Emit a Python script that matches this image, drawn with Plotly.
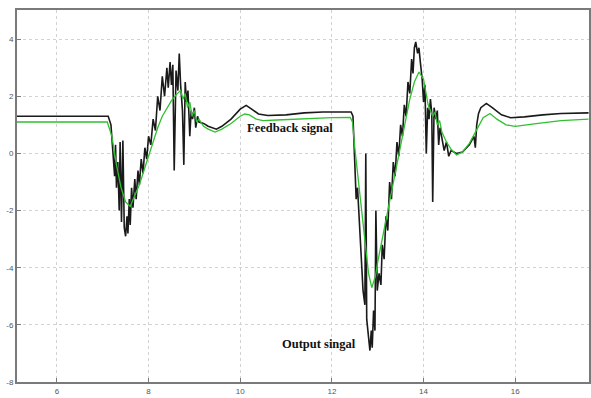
import plotly.graph_objects as go

# Output signal (black)
out_x = [5.1, 7.12, 7.18, 7.22, 7.26, 7.28, 7.3, 7.33, 7.36, 7.38, 7.41, 7.44, 7.47, 7.5, 7.53, 7.55,
         7.58, 7.6, 7.63, 7.66, 7.7, 7.73, 7.77, 7.8, 7.84, 7.88, 7.92, 7.96, 8.0, 8.05, 8.1, 8.15,
         8.2, 8.25, 8.3, 8.35, 8.4, 8.43, 8.47, 8.5, 8.53, 8.56, 8.6, 8.64, 8.67, 8.7, 8.74, 8.77,
         8.8, 8.83, 8.86, 8.9, 8.93, 8.96, 9.0, 9.03, 9.07, 9.1, 9.2, 9.3, 9.48, 9.6, 9.8, 10.0,
         10.13, 10.25, 10.4, 10.6, 11.0, 11.4, 11.8, 12.2, 12.42, 12.46, 12.5, 12.53, 12.56, 12.6,
         12.64, 12.68, 12.72, 12.74, 12.76, 12.8, 12.83, 12.86, 12.88, 12.91, 12.94, 12.96, 12.99,
         13.03, 13.07, 13.1, 13.14, 13.18, 13.22, 13.26, 13.3, 13.34, 13.38, 13.42, 13.46, 13.5,
         13.54, 13.58, 13.62, 13.66, 13.7, 13.74, 13.77, 13.8, 13.83, 13.87, 13.9, 13.93, 13.97,
         14.0, 14.03, 14.06, 14.09, 14.12, 14.15, 14.18, 14.2, 14.23, 14.27, 14.3, 14.33, 14.36,
         14.4, 14.45, 14.5, 14.55, 14.6, 14.72, 14.85, 15.0, 15.1, 15.13, 15.16, 15.2, 15.25,
         15.37, 15.5, 15.7, 15.9, 16.2, 16.6, 17.0, 17.6]
out_y = [1.3, 1.3, 1.0, 0.0, -0.8, 0.3, -1.2, -0.3, -2.0, 0.4, -2.4, 0.45, -2.6, -2.9, -2.2, -2.8,
         -1.6, -2.5, -1.2, -1.9, -0.9, -1.6, -0.6, -1.1, -0.2, -0.7, 0.2, -0.2, 0.6, 0.3, 1.2, 0.8,
         2.0, 1.5, 2.7, 2.0, 3.0, 2.3, 3.2, 2.4, 3.1, -0.6, 2.9, 2.2, 3.5, 2.4, 1.5, -0.4,
         2.5, 1.8, 2.2, 0.6, 1.5, 1.2, 1.6, 0.9, 1.3, 1.1, 1.05, 0.95, 0.85, 0.95, 1.2, 1.55,
         1.68, 1.55, 1.38, 1.33, 1.35, 1.42, 1.45, 1.45, 1.45, 1.3, -0.5, -1.6, -1.2, -2.4,
         -3.5, -4.8, -5.3, 0.0, -5.8, -6.5, -6.9, -6.2, -6.8, -5.5, -6.2, -2.0, -4.8,
         -4.2, -4.6, -3.2, -3.7, -2.2, -2.7, -1.0, -1.6, -0.3, -0.8, 0.4, -0.1, 1.0,
         0.6, 1.7, 1.3, 2.5, 2.1, 3.3, 2.8, 3.7, 3.9, 3.5, 3.7, 3.2, 2.6,
         1.8, 2.4, 0.0, 1.6, 1.2, 1.9, 1.4, -1.7, 1.6, 1.2, 1.5, 0.3, 0.9,
         0.5, 0.1, 0.4, -0.1, 0.1, 0.0, 0.05, 0.3, 0.6, 0.2, 1.0, 1.4, 1.6,
         1.75, 1.6, 1.35, 1.25, 1.28, 1.35, 1.4, 1.42]

# Feedback signal (green)
fb_x = [5.1, 7.1, 7.2, 7.3, 7.4, 7.5, 7.6, 7.7, 7.8, 7.9, 8.0, 8.1, 8.2, 8.3, 8.4, 8.5, 8.6, 8.7,
        8.75, 8.8, 8.85, 8.9, 8.95, 9.0, 9.05, 9.1, 9.2, 9.3, 9.45, 9.6, 9.8, 10.0, 10.1, 10.2,
        10.35, 10.5, 10.8, 11.2, 11.6, 12.0, 12.4, 12.45, 12.5, 12.6, 12.7, 12.8, 12.87, 12.95,
        13.0, 13.1, 13.2, 13.3, 13.4, 13.5, 13.6, 13.7, 13.8, 13.9, 14.0, 14.1, 14.2, 14.25,
        14.3, 14.35, 14.4, 14.5, 14.6, 14.72, 14.85, 15.0, 15.15, 15.3, 15.45, 15.6, 15.8, 16.0,
        16.5, 17.0, 17.6]
fb_y = [1.1, 1.1, 0.6, -0.4, -1.2, -1.7, -1.85, -1.5, -1.1, -0.6, -0.1, 0.4, 0.9, 1.3, 1.6, 1.85, 2.05, 2.2,
        1.9, 2.1, 1.6, 1.8, 1.3, 1.5, 1.1, 1.2, 0.95, 0.85, 0.75, 0.85, 1.05, 1.3, 1.38, 1.35,
        1.2, 1.15, 1.17, 1.2, 1.22, 1.25, 1.26, 1.1, 0.2, -1.2, -2.8, -4.2, -4.7, -4.3,
        -3.8, -3.0, -2.1, -1.3, -0.5, 0.3, 1.1, 1.9, 2.5, 2.85, 2.6, 1.7, 1.3, 1.45,
        1.0, 1.15, 0.75, 0.4, 0.15, -0.05, 0.05, 0.35, 0.8, 1.25, 1.4, 1.2, 1.0, 0.95,
        1.05, 1.15, 1.2]

x_ticks = [6, 8, 10, 12, 14, 16]
y_ticks = [-8, -6, -4, -2, 0, 2, 4]

fig = go.Figure()
fig.add_trace(go.Scatter(x=out_x, y=out_y, mode="lines",
                         line=dict(color="#1a1a1a", width=1.6), showlegend=False))
fig.add_trace(go.Scatter(x=fb_x, y=fb_y, mode="lines",
                         line=dict(color="#2fc02f", width=1.3), showlegend=False))

fig.add_annotation(x=11.09, y=0.88, text="<b>Feedback signal</b>", showarrow=False,
                   font=dict(family="Liberation Serif", size=12.5, color="#111"))
fig.add_annotation(x=11.72, y=-6.67, text="<b>Output singal</b>", showarrow=False,
                   font=dict(family="Liberation Serif", size=12.5, color="#111"))

axis_common = dict(showgrid=True, gridcolor="#d2d2d2", griddash="dot", gridwidth=1,
                   showline=True, linecolor="#7a7a7a", linewidth=2, mirror=True,
                   ticks="inside", ticklen=4, tickcolor="#7a7a7a", zeroline=False,
                   tickfont=dict(family="Liberation Sans", size=8, color="#555"))

fig.update_xaxes(range=[5.13, 17.61], tickvals=x_ticks, ticktext=[str(v) for v in x_ticks],
                 **axis_common)
fig.update_yaxes(range=[-8, 5.02], tickvals=y_ticks, ticktext=[str(v) for v in y_ticks],
                 **axis_common)

fig.update_layout(width=591, height=398, margin=dict(l=17, r=0, t=10, b=16),
                  paper_bgcolor="white", plot_bgcolor="white")

fig.write_html("out.html")
